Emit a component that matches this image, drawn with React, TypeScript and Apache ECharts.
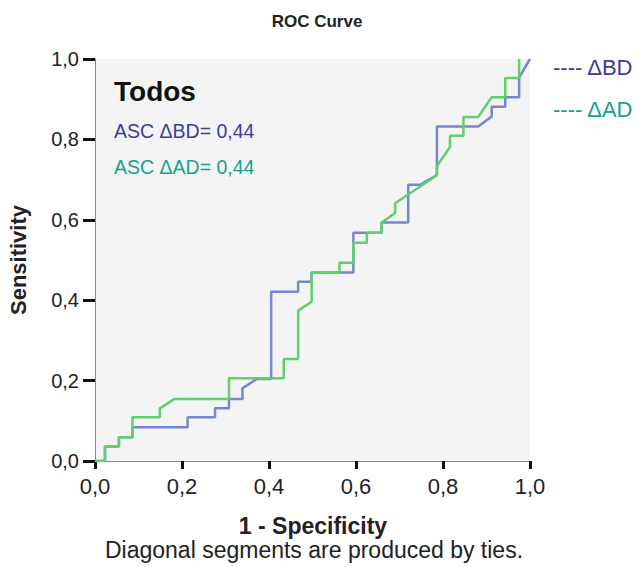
import React, { useEffect, useRef } from "react";
import * as echarts from "echarts";

// ROC step curves, [1 - specificity, sensitivity]
const rocBD: [number, number][] = [
  [0, 0], [0.023, 0], [0.023, 0.036], [0.055, 0.036], [0.055, 0.059],
  [0.086, 0.059], [0.086, 0.084], [0.213, 0.084], [0.213, 0.109],
  [0.276, 0.109], [0.276, 0.131], [0.308, 0.131], [0.308, 0.154],
  [0.339, 0.154], [0.339, 0.181], [0.372, 0.204], [0.405, 0.204],
  [0.405, 0.421], [0.467, 0.421], [0.467, 0.446], [0.498, 0.446],
  [0.498, 0.469], [0.594, 0.469], [0.594, 0.568], [0.659, 0.568],
  [0.659, 0.593], [0.72, 0.593], [0.72, 0.687], [0.747, 0.687],
  [0.786, 0.711], [0.786, 0.832], [0.881, 0.832], [0.912, 0.857],
  [0.912, 0.881], [0.943, 0.881], [0.943, 0.905], [0.975, 0.905],
  [0.975, 0.954], [1, 1],
];

const rocAD: [number, number][] = [
  [0, 0], [0.023, 0], [0.023, 0.036], [0.055, 0.036], [0.055, 0.059],
  [0.086, 0.059], [0.086, 0.109], [0.149, 0.109], [0.149, 0.131],
  [0.182, 0.154], [0.308, 0.154], [0.308, 0.206], [0.434, 0.206],
  [0.434, 0.254], [0.467, 0.254], [0.467, 0.374], [0.498, 0.396],
  [0.498, 0.469], [0.562, 0.469], [0.562, 0.493], [0.594, 0.493],
  [0.594, 0.543], [0.625, 0.543], [0.625, 0.568], [0.659, 0.568],
  [0.659, 0.593], [0.69, 0.617], [0.69, 0.641], [0.786, 0.711],
  [0.786, 0.734], [0.816, 0.781], [0.816, 0.809], [0.847, 0.809],
  [0.847, 0.856], [0.881, 0.856], [0.912, 0.905], [0.943, 0.905],
  [0.943, 0.953], [0.975, 0.953], [0.975, 1],
];

const aucBD = "0,44";
const aucAD = "0,44";
const groupName = "Todos";

const FONT = "'Liberation Sans', Arial, sans-serif";
const BD_TEXT = "#3c3c9a";
const AD_TEXT = "#17a08c";

const fmt = (v: number) => v.toFixed(1).replace(".", ",");

export default function App() {
  const ref = useRef<HTMLDivElement>(null);

  useEffect(() => {
    if (!ref.current) return;
    const chart = echarts.init(ref.current, null, { renderer: "svg" });

    const axisCommon = {
      type: "value" as const,
      min: 0,
      max: 1,
      interval: 0.2,
      splitLine: { show: false },
      axisLine: { show: true, lineStyle: { color: "#8a8a8a", width: 1 } },
    };

    chart.setOption({
      animation: false,
      backgroundColor: "#ffffff",
      title: {
        text: "ROC Curve",
        left: 312,
        top: 8,
        textAlign: "center",
        textStyle: { fontSize: 17, fontWeight: "bold", color: "#222", fontFamily: FONT },
      },
      grid: {
        left: 95,
        right: 111,
        top: 59,
        bottom: 106,
        show: true,
        backgroundColor: "#f4f4f4",
        borderWidth: 0,
      },
      xAxis: {
        ...axisCommon,
        axisTick: { show: true, length: 8, lineStyle: { color: "#111", width: 3 } },
        axisLabel: { formatter: fmt, color: "#222", fontSize: 22, fontFamily: FONT, margin: 14 },
      },
      yAxis: {
        ...axisCommon,
        axisTick: { show: true, length: 12, lineStyle: { color: "#111", width: 3 } },
        axisLabel: { formatter: fmt, color: "#222", fontSize: 20, fontFamily: FONT, margin: 16 },
      },
      series: [
        {
          name: "ΔBD",
          type: "line",
          data: rocBD,
          showSymbol: false,
          lineStyle: { color: "#7686d0", width: 2.5 },
          z: 2,
        },
        {
          name: "ΔAD",
          type: "line",
          data: rocAD,
          showSymbol: false,
          lineStyle: { color: "#5fd06c", width: 2.5 },
          z: 3,
        },
      ],
      graphic: [
        {
          type: "text",
          left: 114,
          top: 77,
          style: { text: groupName, fill: "#111", font: `bold 28px ${FONT}` },
        },
        {
          type: "text",
          left: 114,
          top: 121,
          style: { text: `ASC ΔBD= ${aucBD}`, fill: BD_TEXT, font: `19.5px ${FONT}` },
        },
        {
          type: "text",
          left: 114,
          top: 157,
          style: { text: `ASC ΔAD= ${aucAD}`, fill: AD_TEXT, font: `19.5px ${FONT}` },
        },
        {
          type: "text",
          left: 553,
          top: 56,
          style: { text: "---- ΔBD", fill: BD_TEXT, font: `22px ${FONT}` },
        },
        {
          type: "text",
          left: 553,
          top: 98,
          style: { text: "---- ΔAD", fill: AD_TEXT, font: `22px ${FONT}` },
        },
        {
          type: "text",
          x: 18,
          y: 260,
          rotation: Math.PI / 2,
          style: {
            text: "Sensitivity",
            fill: "#222",
            font: `bold 22px ${FONT}`,
            align: "center",
            verticalAlign: "middle",
          },
        },
        {
          type: "text",
          x: 313,
          y: 526,
          style: {
            text: "1 - Specificity",
            fill: "#222",
            font: `bold 23px ${FONT}`,
            align: "center",
            verticalAlign: "middle",
          },
        },
        {
          type: "text",
          x: 314,
          y: 550,
          style: {
            text: "Diagonal segments are produced by ties.",
            fill: "#222",
            font: `23px ${FONT}`,
            align: "center",
            verticalAlign: "middle",
          },
        },
      ],
    });

    return () => chart.dispose();
  }, []);

  return (
    <div
      ref={ref}
      style={{ position: "fixed", left: 0, top: 0, width: 641, height: 567 }}
    />
  );
}
